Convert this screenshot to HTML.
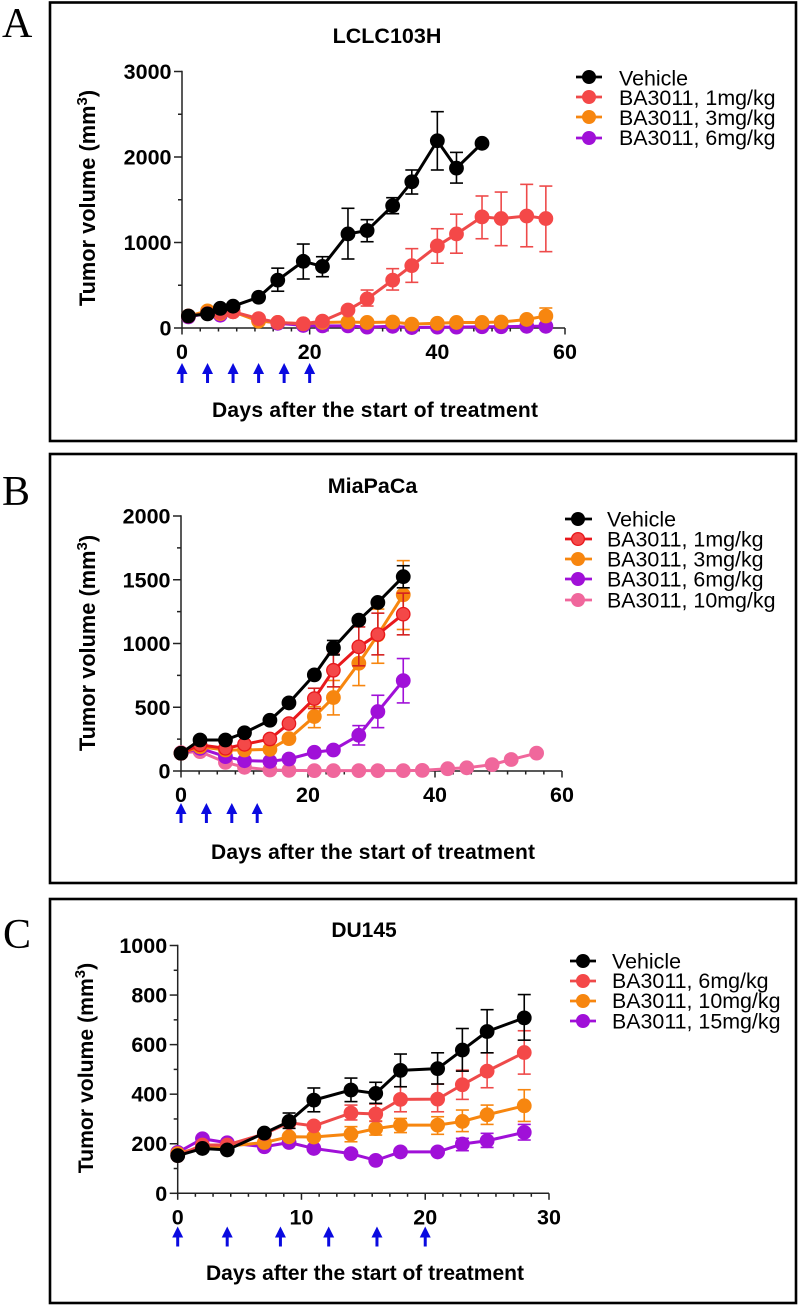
<!DOCTYPE html>
<html lang="en">
<head>
<meta charset="utf-8">
<title>BA3011 tumor volume charts</title>
<style>
html,body{margin:0;padding:0;background:#fff;}
svg{display:block;}
text{font-family:"Liberation Sans",Arial,sans-serif;fill:#000;}
.letter{font-family:"Liberation Serif","Times New Roman",serif;font-size:42px;}
.b{font-weight:bold;}
.title{font-weight:bold;font-size:21.5px;text-anchor:middle;}
.xt{font-weight:bold;font-size:21px;text-anchor:middle;}
.yt{font-weight:bold;font-size:21.8px;text-anchor:middle;}
.leg{font-size:21.4px;}
.tick{font-weight:bold;font-size:21.5px;}
.box{fill:none;stroke:#000;stroke-width:2.6;}
</style>
</head>
<body>
<svg id="fig" xmlns="http://www.w3.org/2000/svg" width="800" height="1307" viewBox="0 0 800 1307">
  <rect class="box" x="50" y="2.5" width="746" height="438.5"/>
  <rect class="box" x="50" y="454" width="746" height="429"/>
  <rect class="box" x="50" y="899" width="746" height="404"/>

  <text class="letter" x="2" y="37">A</text>
  <text class="letter" x="2" y="505">B</text>
  <text class="letter" x="3" y="948">C</text>

  <text class="title" x="387" y="43">LCLC103H</text>
  <text class="title" x="372.5" y="493">MiaPaCa</text>
  <text class="title" style="font-size:21px" x="364" y="937">DU145</text>

  <text class="xt" x="375" y="417" textLength="326" lengthAdjust="spacing">Days after the start of treatment</text>
  <text class="xt" x="373" y="859" textLength="324" lengthAdjust="spacing">Days after the start of treatment</text>
  <text class="xt" x="365" y="1280" textLength="318" lengthAdjust="spacing">Days after the start of treatment</text>

  <text class="yt" transform="translate(95,198) rotate(-90)">Tumor volume (mm<tspan font-size="15" dy="-8">3</tspan><tspan dy="8">)</tspan></text>
  <text class="yt" transform="translate(95,643) rotate(-90)">Tumor volume (mm<tspan font-size="15" dy="-8">3</tspan><tspan dy="8">)</tspan></text>
  <text class="yt" style="font-size:21.2px" transform="translate(93,1068) rotate(-90)">Tumor volume (mm<tspan font-size="15" dy="-8">3</tspan><tspan dy="8">)</tspan></text>

  <g id="plots"></g>

  <g>
    <g><line x1="576" x2="602" y1="77" y2="77" stroke="#000" stroke-width="2.8"/><circle cx="589" cy="77" r="7" fill="#000"/><text class="leg" x="619" y="85.5">Vehicle</text></g>
    <g><line x1="576" x2="602" y1="97" y2="97" stroke="#ee4a4a" stroke-width="2.8"/><circle cx="589" cy="97" r="7" fill="#f44848"/><text class="leg" x="619" y="105">BA3011, 1mg/kg</text></g>
    <g><line x1="576" x2="602" y1="117" y2="117" stroke="#f7860f" stroke-width="2.8"/><circle cx="589" cy="117" r="7" fill="#f7860f"/><text class="leg" x="619" y="125">BA3011, 3mg/kg</text></g>
    <g><line x1="576" x2="602" y1="138" y2="138" stroke="#a010d8" stroke-width="2.8"/><circle cx="589" cy="138" r="7" fill="#a010d8"/><text class="leg" x="619" y="145">BA3011, 6mg/kg</text></g>
  </g>
  <g>
    <g><line x1="565" x2="592" y1="519" y2="519" stroke="#000" stroke-width="2.8"/><circle cx="578" cy="519" r="7" fill="#000"/><text class="leg" x="607" y="526.5">Vehicle</text></g>
    <g><line x1="565" x2="592" y1="539" y2="539" stroke="#e8181c" stroke-width="2.8"/><circle cx="578" cy="539" r="6.4" fill="#f44848" stroke="#e8181c" stroke-width="1.3"/><text class="leg" x="607" y="546.5">BA3011, 1mg/kg</text></g>
    <g><line x1="565" x2="592" y1="559" y2="559" stroke="#f7860f" stroke-width="2.8"/><circle cx="578" cy="559" r="7" fill="#f7860f"/><text class="leg" x="607" y="566.5">BA3011, 3mg/kg</text></g>
    <g><line x1="565" x2="592" y1="579" y2="579" stroke="#a010d8" stroke-width="2.8"/><circle cx="578" cy="579" r="7" fill="#a010d8"/><text class="leg" x="607" y="586.5">BA3011, 6mg/kg</text></g>
    <g><line x1="565" x2="592" y1="600" y2="600" stroke="#f0679c" stroke-width="2.8"/><circle cx="578" cy="600" r="7" fill="#f0679c"/><text class="leg" x="607" y="607.5">BA3011, 10mg/kg</text></g>
  </g>
  <g>
    <g><line x1="570" x2="596" y1="961" y2="961" stroke="#000" stroke-width="2.8"/><circle cx="583" cy="961" r="7" fill="#000"/><text class="leg" x="612" y="968.5">Vehicle</text></g>
    <g><line x1="570" x2="596" y1="981" y2="981" stroke="#ee4a4a" stroke-width="2.8"/><circle cx="583" cy="981" r="7" fill="#f44848"/><text class="leg" x="612" y="988">BA3011, 6mg/kg</text></g>
    <g><line x1="570" x2="596" y1="1001" y2="1001" stroke="#f7860f" stroke-width="2.8"/><circle cx="583" cy="1001" r="7" fill="#f7860f"/><text class="leg" x="612" y="1008">BA3011, 10mg/kg</text></g>
    <g><line x1="570" x2="596" y1="1021" y2="1021" stroke="#a010d8" stroke-width="2.8"/><circle cx="583" cy="1021" r="7" fill="#a010d8"/><text class="leg" x="612" y="1028.5">BA3011, 15mg/kg</text></g>
  </g>
</svg>
<script>
// Panel A: LCLC103H
const aDays = [1,4,6,8,12,15,19,22,26,29,33,36,40,43,47,50,54,57];
const aVehicle = [140,165,230,255,360,560,780,720,1100,1140,1430,1710,2190,1870,2160];
const aVehicleHi = [null,null,null,null,null,700,982,834,1400,1267,1524,1848,2530,2054,null];
const aVehicleLo = [null,null,null,null,null,430,573,600,807,1009,1337,1567,1848,1695,null];
const a1mg = [140,170,180,190,110,65,50,80,210,340,560,729,960,1100,1300,1280,1310,1280];
const a1mgHi = [null,null,null,null,null,null,null,null,null,444,694,928,1161,1331,1544,1590,1680,1660];
const a1mgLo = [null,null,null,null,null,null,null,null,null,257,444,534,758,875,1044,963,950,893];
const a3mg = [140,200,170,190,80,65,50,65,70,65,70,45,55,65,65,70,100,140];
const a3mgHi = [null,null,null,null,null,null,null,null,null,null,null,null,null,null,null,null,null,234];
const a3mgLo = [null,null,null,null,null,null,null,null,null,null,null,null,null,null,null,null,null,null];
const a6mg = [130,170,150,190,90,55,30,25,25,10,20,5,10,10,15,15,20,20];
const aTreatDays = [0,4,8,12,16,20];
const aXTicks = [0,20,40,60];
const aYTicks = [0,1000,2000,3000];

// Panel B: MiaPaCa
const bDays = [0,3,7,10,14,17,21,24,28,31,35,38,42,45,49,52,56];
const bVehicle = [139,243,243,300,398,534,754,966,1183,1322,1524];
const bVehicleHi = [null,null,null,null,null,null,null,1024,null,null,1610];
const bVehicleLo = [null,null,null,null,null,null,null,910,null,null,1437];
const b1mg = [139,205,178,209,251,372,568,790,974,1071,1230];
const b1mgHi = [null,null,null,null,null,null,649,916,1130,1238,1395];
const b1mgLo = [null,null,null,null,null,null,490,660,825,911,1068];
const b3mg = [139,190,165,165,170,254,427,576,845,1068,1382];
const b3mgHi = [null,null,null,null,null,null,505,710,990,1270,1650];
const b3mgLo = [null,null,null,null,null,null,340,440,670,845,1110];
const b6mg = [139,178,113,81,76,94,147,165,280,466,709];
const b6mgHi = [null,null,null,null,null,null,null,null,356,594,882];
const b6mgLo = [null,null,null,null,null,null,null,null,204,340,534];
const b10mg = [144,152,68,29,8,5,3,3,3,3,3,5,18,25,50,90,140];
const bTreatDays = [0,4,8,12];
const bXTicks = [0,20,40,60];
const bYTicks = [0,500,1000,1500,2000];

// Panel C: DU145
const cDays = [0,2,4,7,9,11,14,16,18,21,23,25,28];
const cVehicle = [152,181,175,243,290,376,417,403,496,503,578,653,708];
const cVehicleHi = [null,null,null,null,324,425,465,448,562,567,665,741,802];
const cVehicleLo = [null,null,null,null,262,329,370,363,430,441,493,567,618];
const c6mg = [152,195,195,240,285,272,324,320,379,380,438,493,568];
const c6mgHi = [null,null,null,null,null,null,356,360,430,441,497,567,656];
const c6mgLo = [null,null,null,null,null,null,296,290,329,329,379,426,481];
const c10mg = [160,188,190,205,228,227,239,261,275,275,290,317,353];
const c10mgHi = [null,null,null,null,null,null,269,292,302,309,336,356,418];
const c10mgLo = [null,null,null,null,null,null,208,235,245,238,249,278,290];
const c15mg = [165,220,204,188,205,181,160,133,167,167,199,212,246];
const c15mgHi = [null,null,null,null,null,null,null,null,null,null,222,242,278];
const c15mgLo = [null,null,null,null,null,null,null,null,null,null,172,185,215];
const cTreatDays = [0,4,8.3,12.2,16.1,20];
const cXTicks = [0,10,20,30];
const cYTicks = [0,200,400,600,800,1000];

const SVG_NS = 'http://www.w3.org/2000/svg';
const RED = '#ee4a4a', DEEPRED = '#e8181c', FILLRED = '#f44848';
const ORANGE = '#f7860f', PURPLE = '#a010d8', PINK = '#f0679c', BLACK = '#000';

function make(tag, name, attrs, parent) {
  const el = document.createElementNS(SVG_NS, tag);
  
  
  for (const k in attrs) el.setAttribute(k, attrs[k]);
  parent.appendChild(el);
  return el;
}

function drawPanel(p) {
  const root = document.getElementById('plots');
  const g = make('g', p.id + '-plot', {}, root);
  const xMax = p.xTicks[p.xTicks.length - 1], yMax = p.yTicks[p.yTicks.length - 1];
  const X = d => p.x0 + (d / xMax) * (p.x1 - p.x0);
  const Y = v => p.y0 - (v / yMax) * (p.y0 - p.y1);

  // axes
  const axis = make('g', p.id + '-axes', {stroke: '#222', 'stroke-width': 1.5}, g);
  make('line', 'x-axis', {x1: X(0), x2: X(xMax), y1: p.y0, y2: p.y0}, axis);
  make('line', 'y-axis', {x1: X(0), x2: X(0), y1: p.y0 + 0.75, y2: Y(yMax) - 0.75}, axis);
  p.xTicks.forEach((t, i) => {
    make('line', 'x-tick', {x1: X(t), x2: X(t), y1: p.y0, y2: p.y0 + 6.5}, axis);
    const label = make('text', 'x-tick-label', {class: 'tick', x: X(t), y: p.y0 + 31, 'text-anchor': 'middle', stroke: 'none'}, g);
    label.textContent = t;
    if (i < p.xTicks.length - 1) {
      const step = (p.xTicks[i + 1] - t) / 7;
      for (let k = 1; k < 7; k++) {
        make('line', 'x-minor-tick', {x1: X(t + k * step), x2: X(t + k * step), y1: p.y0, y2: p.y0 + 3.5}, axis);
      }
    }
  });
  p.yTicks.forEach((t, i) => {
    make('line', 'y-tick', {x1: X(0) - 8, x2: X(0), y1: Y(t), y2: Y(t)}, axis);
    const label = make('text', 'y-tick-label', {class: 'tick', x: X(0) - 10.5, y: Y(t) + 7.5, 'text-anchor': 'end', stroke: 'none'}, g);
    label.textContent = t;
    if (i < p.yTicks.length - 1) {
      const mid = (t + p.yTicks[i + 1]) / 2;
      make('line', 'y-minor-tick', {x1: X(0) - 4, x2: X(0), y1: Y(mid), y2: Y(mid)}, axis);
    }
  });

  // series, back to front
  p.series.forEach(s => {
    const sg = make('g', 'series-' + s.name, {}, g);
    s.values.forEach((v, i) => {
      const hi = s.hi ? s.hi[i] : null, lo = s.lo ? s.lo[i] : null;
      const ec = s.errColor || s.line;
      if (hi !== null) {
        make('line', 'error-bar', {x1: X(p.days[i]), x2: X(p.days[i]), y1: Y(v), y2: Y(hi), stroke: ec, 'stroke-width': 1.6}, sg);
        make('line', 'error-cap', {x1: X(p.days[i]) - 6.5, x2: X(p.days[i]) + 6.5, y1: Y(hi), y2: Y(hi), stroke: ec, 'stroke-width': 1.6}, sg);
      }
      if (lo !== null) {
        make('line', 'error-bar', {x1: X(p.days[i]), x2: X(p.days[i]), y1: Y(v), y2: Y(lo), stroke: ec, 'stroke-width': 1.6}, sg);
        make('line', 'error-cap', {x1: X(p.days[i]) - 6.5, x2: X(p.days[i]) + 6.5, y1: Y(lo), y2: Y(lo), stroke: ec, 'stroke-width': 1.6}, sg);
      }
    });
    const pts = s.values.map((v, i) => X(p.days[i]).toFixed(2) + ',' + Y(v).toFixed(2)).join(' ');
    make('polyline', 'series-line', {points: pts, fill: 'none', stroke: s.line, 'stroke-width': 3, 'stroke-linejoin': 'round'}, sg);
    s.values.forEach((v, i) => {
      const attrs = {cx: X(p.days[i]), cy: Y(v), r: s.ring ? 6.7 : 7.4, fill: s.fill};
      if (s.ring) { attrs.stroke = s.ring; attrs['stroke-width'] = 1.3; }
      make('circle', 'data-point', attrs, sg);
    });
  });

  // treatment arrows
  p.treat.forEach(d => {
    const a = make('g', 'treatment-arrow', {}, g);
    const x = X(d), t = p.arrowTop, b = p.arrowTop + 20;
    make('line', 'arrow-shaft', {x1: x, x2: x, y1: t + 6, y2: b, stroke: '#0a0ae0', 'stroke-width': 3}, a);
    make('polygon', 'arrow-head', {points: `${x},${t} ${x - 5.5},${t + 11} ${x + 5.5},${t + 11}`, fill: '#0a0ae0'}, a);
  });
}

drawPanel({
  id: 'panel-a', x0: 182, x1: 565, y0: 328, y1: 71.5, days: aDays, xTicks: aXTicks, yTicks: aYTicks, treat: aTreatDays, arrowTop: 363,
  series: [
    {name: '6mg', values: a6mg, line: PURPLE, fill: PURPLE},
    {name: '3mg', values: a3mg, hi: a3mgHi, lo: a3mgLo, line: ORANGE, fill: ORANGE},
    {name: '1mg', values: a1mg, hi: a1mgHi, lo: a1mgLo, line: RED, fill: FILLRED},
    {name: 'vehicle', values: aVehicle, hi: aVehicleHi, lo: aVehicleLo, line: BLACK, fill: BLACK}
  ]
});
drawPanel({
  id: 'panel-b', x0: 181, x1: 562, y0: 771, y1: 516, days: bDays, xTicks: bXTicks, yTicks: bYTicks, treat: bTreatDays, arrowTop: 803,
  series: [
    {name: '10mg', values: b10mg, line: PINK, fill: PINK},
    {name: '6mg', values: b6mg, hi: b6mgHi, lo: b6mgLo, line: PURPLE, fill: PURPLE},
    {name: '3mg', values: b3mg, hi: b3mgHi, lo: b3mgLo, line: ORANGE, fill: ORANGE},
    {name: '1mg', values: b1mg, hi: b1mgHi, lo: b1mgLo, line: DEEPRED, fill: FILLRED, ring: DEEPRED, errColor: '#d42020'},
    {name: 'vehicle', values: bVehicle, hi: bVehicleHi, lo: bVehicleLo, line: BLACK, fill: BLACK}
  ]
});
drawPanel({
  id: 'panel-c', x0: 177.7, x1: 549, y0: 1193.3, y1: 945.5, days: cDays, xTicks: cXTicks, yTicks: cYTicks, treat: cTreatDays, arrowTop: 1226.5,
  series: [
    {name: '15mg', values: c15mg, hi: c15mgHi, lo: c15mgLo, line: PURPLE, fill: PURPLE},
    {name: '10mg', values: c10mg, hi: c10mgHi, lo: c10mgLo, line: ORANGE, fill: ORANGE},
    {name: '6mg', values: c6mg, hi: c6mgHi, lo: c6mgLo, line: RED, fill: FILLRED},
    {name: 'vehicle', values: cVehicle, hi: cVehicleHi, lo: cVehicleLo, line: BLACK, fill: BLACK}
  ]
});
</script>
</body>
</html>
